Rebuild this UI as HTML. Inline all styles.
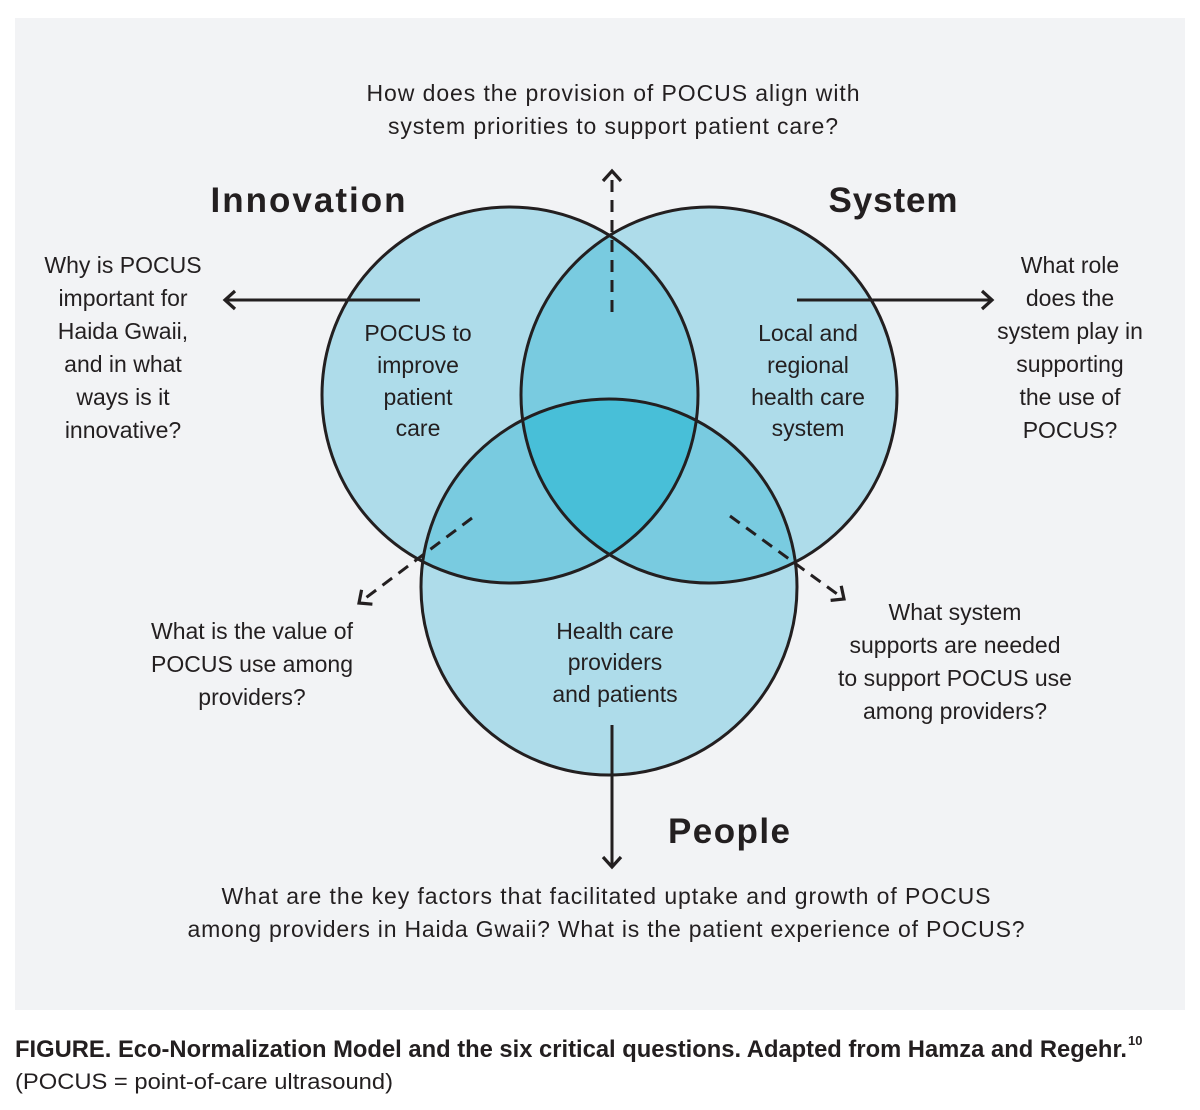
<!DOCTYPE html>
<html><head><meta charset="utf-8"><style>html,body{margin:0;padding:0;background:#fff}svg{display:block}</style></head>
<body>
<svg width="1200" height="1110" viewBox="0 0 1200 1110" xmlns="http://www.w3.org/2000/svg" font-family="Liberation Sans, sans-serif">
<defs>
<clipPath id="cA"><circle cx="510" cy="395" r="188"/></clipPath>
<clipPath id="cB"><circle cx="709" cy="395" r="188"/></clipPath>
<clipPath id="cC"><circle cx="609" cy="587" r="188"/></clipPath>
<marker id="ah" markerWidth="20" markerHeight="22" refX="13" refY="11" orient="auto" markerUnits="userSpaceOnUse"><path d="M3,2 L13,11 L3,20" fill="none" stroke="#231f20" stroke-width="3.2"/></marker>
</defs>
<rect x="15" y="18" width="1170" height="992" fill="#f2f3f5"/>
<g fill="#aedcea">
<circle cx="510" cy="395" r="188"/><circle cx="709" cy="395" r="188"/><circle cx="609" cy="587" r="188"/>
</g>
<g fill="#79cbe0">
<g clip-path="url(#cA)"><circle cx="709" cy="395" r="188"/><circle cx="609" cy="587" r="188"/></g>
<g clip-path="url(#cB)"><circle cx="609" cy="587" r="188"/></g>
</g>
<g clip-path="url(#cA)"><g clip-path="url(#cB)"><circle cx="609" cy="587" r="188" fill="#48bfd8"/></g></g>
<g fill="none" stroke="#231f20" stroke-width="3">
<circle cx="510" cy="395" r="188"/><circle cx="709" cy="395" r="188"/><circle cx="609" cy="587" r="188"/>
<line x1="420" y1="300" x2="225" y2="300" marker-end="url(#ah)"/>
<line x1="797" y1="300" x2="992" y2="300" marker-end="url(#ah)"/>
<line x1="612" y1="725" x2="612" y2="867" marker-end="url(#ah)"/>
<line x1="612" y1="312" x2="612" y2="171" stroke-dasharray="12,8" marker-end="url(#ah)"/>
<line x1="472" y1="518" x2="359" y2="603" stroke-dasharray="12,8" marker-end="url(#ah)"/>
<line x1="730" y1="516" x2="844" y2="599" stroke-dasharray="12,8" marker-end="url(#ah)"/>
</g>
<g fill="#231f20" font-size="23" text-anchor="middle">
<text x="613" y="101" textLength="493">How does the provision of POCUS align with</text>
<text x="613" y="134" textLength="450">system priorities to support patient care?</text>
<g font-weight="bold" font-size="35">
<text x="308" y="212" textLength="195">Innovation</text>
<text x="893" y="212" textLength="129">System</text>
<text x="729" y="843" textLength="122">People</text>
</g>
<text x="123" y="273">Why is POCUS</text><text x="123" y="306">important for</text><text x="123" y="339">Haida Gwaii,</text><text x="123" y="372">and in what</text><text x="123" y="405">ways is it</text><text x="123" y="438">innovative?</text>
<text x="1070" y="273">What role</text><text x="1070" y="306">does the</text><text x="1070" y="339">system play in</text><text x="1070" y="372">supporting</text><text x="1070" y="405">the use of</text><text x="1070" y="438">POCUS?</text>
<text x="418" y="341">POCUS to</text><text x="418" y="373">improve</text><text x="418" y="405">patient</text><text x="418" y="436">care</text>
<text x="808" y="341">Local and</text><text x="808" y="373">regional</text><text x="808" y="405">health care</text><text x="808" y="436">system</text>
<text x="615" y="639">Health care</text><text x="615" y="670">providers</text><text x="615" y="702">and patients</text>
<text x="252" y="639">What is the value of</text><text x="252" y="672">POCUS use among</text><text x="252" y="705">providers?</text>
<text x="955" y="620">What system</text><text x="955" y="653">supports are needed</text><text x="955" y="686">to support POCUS use</text><text x="955" y="719">among providers?</text>
<text x="606" y="904" textLength="769">What are the key factors that facilitated uptake and growth of POCUS</text>
<text x="606" y="937" textLength="837">among providers in Haida Gwaii? What is the patient experience of POCUS?</text>
</g>
<g fill="#231f20" text-anchor="start">
<text x="15" y="1057" font-size="24" textLength="1112" lengthAdjust="spacingAndGlyphs"><tspan font-weight="bold">FIGURE.</tspan> <tspan font-weight="bold">Eco-Normalization Model and the six critical questions. Adapted from Hamza and Regehr.</tspan></text>
<text x="1128" y="1045" font-size="13" font-weight="bold">10</text>
<text x="15" y="1089" font-size="22" textLength="378" lengthAdjust="spacingAndGlyphs">(POCUS = point-of-care ultrasound)</text>
</g>
</svg>
</body></html>
